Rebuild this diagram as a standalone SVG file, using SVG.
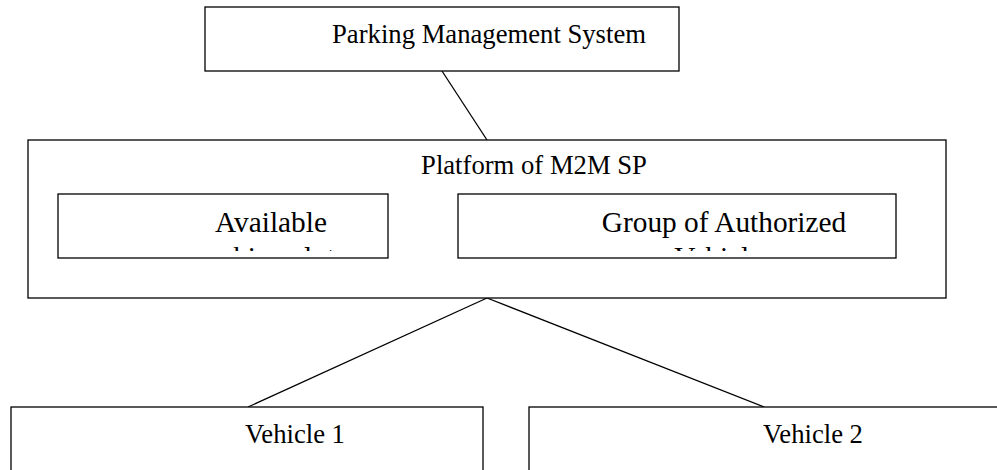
<svg xmlns="http://www.w3.org/2000/svg" width="997" height="470" viewBox="0 0 997 470">
<style>
.box{fill:#fff;stroke:#000;stroke-width:1.3}
.conn line{stroke:#000;stroke-width:1.3}
.t{font-family:"Liberation Serif","Times New Roman",serif;font-size:26.67px;fill:#000;text-anchor:middle}
.t2{font-family:"Liberation Serif","Times New Roman",serif;font-size:29.33px;fill:#000;text-anchor:middle}
</style>
<defs>
<clipPath id="c1"><rect x="58" y="194" width="330" height="57"/></clipPath>
<clipPath id="c2"><rect x="458" y="194" width="438" height="57"/></clipPath>
</defs>
<rect width="997" height="470" fill="#fff"/>
<g id="connectors" class="conn">
<line x1="442" y1="71" x2="487" y2="140"/>
<line x1="487" y1="298" x2="248" y2="407"/>
<line x1="487" y1="298" x2="764" y2="407"/>
</g>
<g id="pms">
<rect class="box" x="205" y="7" width="474" height="64"/>
<text class="t" x="489" y="43">Parking Management System</text>
</g>
<g id="platform">
<rect class="box" x="28" y="140" width="918" height="158"/>
<text class="t" x="534" y="174">Platform of M2M SP</text>
</g>
<g id="available">
<rect class="box" x="58" y="194" width="330" height="64"/>
<g clip-path="url(#c1)">
<text class="t2" x="271" y="232">Available</text>
<text class="t2" x="271" y="267">parking slots</text>
</g>
</g>
<g id="group">
<rect class="box" x="458" y="194" width="438" height="64"/>
<g clip-path="url(#c2)">
<text class="t2" x="724" y="232">Group of Authorized</text>
<text class="t2" x="724" y="267">Vehicles</text>
</g>
</g>
<g id="vehicle1">
<rect class="box" x="11" y="407" width="472" height="80"/>
<text class="t" x="295" y="443">Vehicle 1</text>
</g>
<g id="vehicle2">
<rect class="box" x="529" y="407" width="480" height="80"/>
<text class="t" x="813" y="443">Vehicle 2</text>
</g>
</svg>
